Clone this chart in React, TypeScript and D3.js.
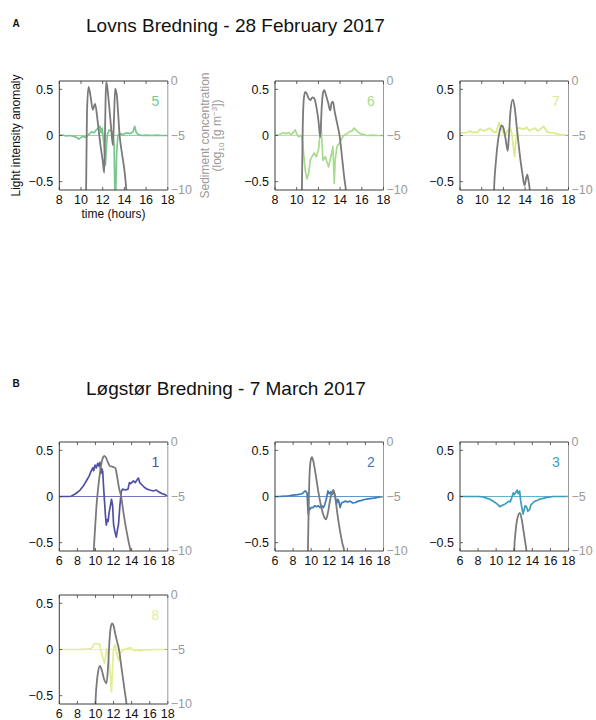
import React from 'react';
import * as d3 from 'd3';

type Pt = [number, number];

// ---------- data: light intensity anomaly (left axis) ----------
const light5: Pt[] = [
  [8.0, 0], [8.3, 0.005], [8.6, -0.005], [9.0, 0], [9.3, -0.01], [9.6, -0.02], [9.8, -0.04], [10.0, -0.02],
  [10.2, -0.01], [10.4, -0.02], [10.6, 0.0], [10.8, 0.02], [11.0, 0.04], [11.2, 0.03], [11.4, 0.06], [11.6, 0.08],
  [11.75, 0.1], [11.85, 0.03], [11.95, 0.08], [12.05, -0.02], [12.15, -0.15], [12.25, -0.32], [12.35, -0.1],
  [12.45, 0.02], [12.6, 0.06], [12.8, 0.05], [12.95, 0.02], [13.05, -0.1], [13.12, -0.6], [13.2, -0.65],
  [13.28, -0.2], [13.4, 0.0], [13.6, 0.02], [13.9, 0.01], [14.2, 0.03], [14.5, 0.02], [14.8, 0.04], [14.95, 0.1],
  [15.1, 0.03], [15.3, 0.01], [15.6, 0.0], [16.0, 0.005], [16.5, 0], [17.0, 0.005], [17.5, 0], [18.0, 0],
];
const light6: Pt[] = [
  [8.0, 0], [8.4, 0.01], [8.8, 0.03], [9.0, 0.02], [9.26, 0.03], [9.5, 0.01], [9.87, 0.06], [10.0, 0.02],
  [10.18, -0.015], [10.35, 0.0], [10.48, -0.02], [10.58, -0.12], [10.79, -0.38], [10.94, -0.47], [11.1, -0.41],
  [11.25, -0.27], [11.4, -0.23], [11.62, -0.19], [11.8, -0.23], [12.02, -0.15], [12.23, 0.14], [12.42, -0.27],
  [12.63, -0.23], [12.94, -0.34], [13.15, -0.23], [13.34, -0.12], [13.46, -0.52], [13.55, -0.26], [13.71, -0.12],
  [13.95, -0.08], [14.17, -0.03], [14.32, 0.0], [14.63, 0.02], [14.85, 0.04], [15.09, 0.05], [15.3, 0.08],
  [15.55, 0.05], [15.85, 0.02], [16.2, 0.01], [16.47, 0], [17.0, 0.005], [17.5, 0], [18.0, 0],
];
const light7: Pt[] = [
  [8.0, 0.02], [8.3, 0.03], [8.62, 0.03], [8.92, 0.05], [9.15, 0.03], [9.38, 0.04], [9.6, 0.03], [9.85, 0.07],
  [10.15, 0.05], [10.46, 0.065], [10.77, 0.08], [11.02, 0.045], [11.32, 0.03], [11.6, 0.14], [11.85, 0.065],
  [12.15, 0.0], [12.37, 0.05], [12.62, 0.08], [12.78, 0.02], [12.86, -0.06], [13.02, -0.23], [13.12, -0.1],
  [13.29, 0.08], [13.54, 0.08], [13.85, 0.065], [14.15, 0.09], [14.4, 0.05], [14.62, 0.065], [14.92, 0.08],
  [15.15, 0.05], [15.38, 0.065], [15.69, 0.1], [16.0, 0.045], [16.3, 0.03], [16.62, 0.03], [17.0, 0.015],
  [17.23, 0.01], [17.6, 0.005], [18.0, 0],
];
const light1: Pt[] = [
  [6, 0], [7, 0], [7.3, 0.003], [7.8, 0.03], [8.3, 0.07], [8.7, 0.12], [9.0, 0.17], [9.3, 0.22], [9.5, 0.27],
  [9.7, 0.31], [9.8, 0.28], [9.95, 0.34], [10.1, 0.31], [10.25, 0.36], [10.4, 0.33], [10.5, 0.37], [10.6, 0.25],
  [10.7, 0.3], [10.8, 0.27], [10.9, 0.1], [11.0, -0.05], [11.1, -0.2], [11.2, -0.31], [11.3, -0.25], [11.4, -0.27],
  [11.5, -0.18], [11.65, -0.1], [11.77, -0.03], [11.9, -0.1], [12.0, -0.3], [12.15, -0.38], [12.3, -0.44],
  [12.45, -0.35], [12.55, -0.3], [12.7, -0.1], [12.85, 0.05], [13.0, 0.08], [13.3, 0.07], [13.6, 0.08],
  [13.75, 0.15], [13.9, 0.14], [14.2, 0.17], [14.4, 0.15], [14.6, 0.18], [14.75, 0.2], [14.9, 0.15], [15.1, 0.13],
  [15.4, 0.1], [15.7, 0.08], [16.0, 0.07], [16.4, 0.06], [16.7, 0.07], [17.0, 0.05], [17.4, 0.03], [17.7, 0.02],
  [18, 0],
];
const light2: Pt[] = [
  [6, 0], [6.5, 0], [7, 0.003], [7.5, 0.008], [8, 0.015], [8.5, 0.02], [9.0, 0.03], [9.34, 0.06], [9.55, 0.04],
  [9.64, -0.15], [9.7, -0.2], [9.75, -0.12], [9.85, -0.14], [10.0, -0.12], [10.2, -0.12], [10.4, -0.1],
  [10.6, -0.11], [10.8, -0.1], [11.0, -0.12], [11.2, -0.1], [11.35, -0.12], [11.5, -0.09], [11.7, -0.02],
  [11.85, 0.06], [12.0, 0.03], [12.15, 0.05], [12.3, 0.02], [12.5, 0.05], [12.65, 0.0], [12.8, -0.08],
  [12.95, -0.03], [13.05, -0.05], [13.2, -0.12], [13.35, -0.07], [13.57, -0.06], [13.8, -0.05], [14.0, -0.06],
  [14.3, -0.05], [14.6, -0.07], [14.9, -0.065], [15.2, -0.05], [15.5, -0.045], [15.8, -0.035], [16.3, -0.025],
  [16.9, -0.018], [17.5, -0.008], [18, 0],
];
const light3: Pt[] = [
  [6, 0], [7, 0], [8, 0], [8.5, -0.003], [9.0, -0.02], [9.3, -0.03], [9.5, -0.04], [9.8, -0.06], [10.1, -0.08],
  [10.4, -0.11], [10.6, -0.1], [10.8, -0.09], [11.0, -0.08], [11.15, -0.07], [11.4, -0.05], [11.55, -0.06],
  [11.7, -0.02], [11.9, 0.04], [12.0, 0.02], [12.15, 0.04], [12.3, 0.07], [12.45, 0.03], [12.6, 0.06],
  [12.7, -0.04], [12.8, -0.1], [12.98, -0.19], [13.1, -0.14], [13.2, -0.1], [13.35, -0.11], [13.5, -0.16],
  [13.7, -0.14], [13.85, -0.09], [14.1, -0.065], [14.3, -0.05], [14.6, -0.04], [14.9, -0.025], [15.2, -0.02],
  [15.6, -0.01], [16.0, -0.005], [16.3, 0], [17, 0], [18, 0],
];
const light8: Pt[] = [
  [6, 0], [7, 0], [8, 0], [9, 0.003], [9.5, 0.01], [9.7, 0.03], [9.82, 0.06], [10.0, 0.065], [10.2, 0.06],
  [10.45, 0.06], [10.56, 0.0], [10.65, -0.03], [10.8, -0.08], [11.0, -0.15], [11.1, -0.09], [11.22, 0.01],
  [11.4, -0.05], [11.55, -0.15], [11.77, -0.46], [11.87, -0.25], [11.95, -0.05], [12.05, 0.03], [12.2, 0.05],
  [12.35, -0.05], [12.58, -0.12], [12.7, -0.05], [12.9, -0.02], [13.2, 0.0], [13.5, 0.01], [13.87, 0.02],
  [14.0, 0.005], [14.3, -0.01], [14.6, -0.005], [15.0, -0.015], [15.5, 0], [16, -0.005], [16.5, 0], [17, 0],
  [18, 0],
];

// ---------- data: sediment concentration, log10 (right axis) ----------
const sed5: Pt[] = [
  [10.4, -14], [10.47, -10], [10.55, -3], [10.69, -0.55], [10.85, -1.2], [11.09, -2.65], [11.2, -2.3],
  [11.3, -2.1], [11.5, -3.4], [11.77, -5.7], [12.0, -7.3], [12.14, -8.4], [12.2, -5.5], [12.26, -2],
  [12.32, -0.1], [12.4, -0.4], [12.55, -1.8], [12.75, -4.0], [12.94, -5.9], [13.05, -3.2], [13.15, -0.7],
  [13.3, -1.3], [13.56, -5], [13.8, -6.8], [13.99, -8.1], [14.17, -9.9], [14.3, -12],
];
const sed6: Pt[] = [
  [10.4, -14], [10.48, -10], [10.56, -4], [10.66, -1.6], [10.79, -1.0], [10.95, -1.2], [11.1, -1.6],
  [11.25, -1.75], [11.45, -1.5], [11.62, -1.6], [11.8, -2.3], [12.0, -3.6], [12.17, -5.15], [12.3, -2.5],
  [12.42, -1.1], [12.54, -0.85], [12.7, -1.3], [12.9, -2.0], [13.09, -2.7], [13.22, -2.0], [13.34, -1.9],
  [13.5, -2.8], [13.75, -4.0], [13.95, -5], [14.2, -7.2], [14.4, -9], [14.53, -10], [14.65, -12],
];
const sed7: Pt[] = [
  [11.05, -14], [11.14, -10], [11.3, -7.5], [11.5, -5.5], [11.7, -4.4], [11.85, -4.08], [12.0, -4.3],
  [12.2, -5.3], [12.4, -6.4], [12.5, -5.2], [12.65, -2.8], [12.86, -1.72], [13.05, -2.5], [13.23, -4.2],
  [13.54, -7.0], [13.75, -8.5], [13.95, -9.6], [14.1, -8.9], [14.2, -8.6], [14.32, -9.2], [14.45, -10.2],
  [14.55, -12],
];
const sed1: Pt[] = [
  [9.7, -14], [9.82, -10], [9.95, -8], [10.1, -6], [10.3, -4.2], [10.5, -2.8], [10.7, -1.8], [10.85, -1.4],
  [11.0, -1.28], [11.2, -1.5], [11.4, -1.9], [11.6, -2.2], [11.85, -2.25], [12.0, -2.3], [12.2, -2.4],
  [12.4, -3.2], [12.6, -4.2], [12.84, -5.0], [13.1, -6.5], [13.4, -8.0], [13.7, -9.3], [13.87, -10], [14.0, -12],
];
const sed2: Pt[] = [
  [9.55, -14], [9.64, -10], [9.75, -5], [9.85, -2.5], [10.0, -1.5], [10.08, -1.4], [10.25, -1.8], [10.5, -3.0],
  [10.8, -4.6], [11.1, -5.9], [11.4, -6.8], [11.63, -7.1], [11.85, -6.5], [12.1, -5.3], [12.3, -4.6],
  [12.47, -4.4], [12.65, -5.0], [12.9, -6.6], [13.2, -8.2], [13.45, -9.3], [13.65, -10], [13.8, -12],
];
const sed3: Pt[] = [
  [11.9, -14], [11.99, -10], [12.15, -8.2], [12.35, -7.0], [12.62, -6.5], [12.85, -7.2], [13.05, -8.3],
  [13.25, -9.4], [13.35, -10], [13.45, -12],
];
const sed8: Pt[] = [
  [9.9, -14], [10.0, -10], [10.15, -8], [10.3, -7], [10.49, -6.5], [10.7, -6.9], [10.95, -7.7], [11.22, -8.1],
  [11.4, -6.5], [11.55, -4.2], [11.7, -2.9], [11.85, -2.6], [12.0, -2.8], [12.2, -3.6], [12.4, -4.3],
  [12.6, -5.0], [12.85, -6.5], [13.1, -8.0], [13.3, -9.2], [13.43, -10], [13.55, -12],
];

// ---------- axes ----------
const hoursA = [8, 10, 12, 14, 16, 18];
const hoursB = [6, 8, 10, 12, 14, 16, 18];
const anomalyTicks = [0.5, 0, -0.5];
const sedimentTicks = [0, -5, -10];

const titleA = 'Lovns Bredning - 28 February 2017';
const titleB = 'Løgstør Bredning - 7 March 2017';

const FONT = '"Liberation Sans", Arial, Helvetica, sans-serif';
const AX = '#3c3c3c';
const AX2 = '#9a9a9a';

type PanelProps = {
  id: string;
  x: number;
  y: number;
  domain: [number, number];
  ticks: number[];
  light: Pt[];
  sed: Pt[];
  color: string;
  label: string;
};

const W = 108.5;
const H = 109;

function Panel({ id, x, y, domain, ticks, light, sed, color, label }: PanelProps) {
  const xs = d3.scaleLinear().domain(domain).range([x, x + W]);
  const yl = d3.scaleLinear().domain([-0.59, 0.59]).range([y + H, y]);
  const yr = d3.scaleLinear().domain([-10, 0]).range([y + H, y]);
  const lineL = d3.line<Pt>().x((d) => xs(d[0])).y((d) => yl(d[1]));
  const lineR = d3
    .line<Pt>()
    .x((d) => xs(d[0]))
    .y((d) => yr(d[1]))
    .curve(d3.curveMonotoneX);
  const clip = 'clip-' + id;
  const tl = 3;
  return (
    <g fontFamily={FONT}>
      <defs>
        <clipPath id={clip}>
          <rect x={x} y={y} width={W} height={H} />
        </clipPath>
      </defs>
      <g clipPath={`url(#${clip})`}>
        <line x1={x} x2={x + W} y1={yl(0)} y2={yl(0)} stroke={color} strokeWidth={0.8} />
        <path d={lineL(light) || ''} fill="none" stroke={color} strokeWidth={1.7} strokeLinejoin="round" />
        <path d={lineR(sed) || ''} fill="none" stroke="#7a7a7a" strokeWidth={1.8} strokeLinejoin="round" />
      </g>
      {/* frame */}
      <line x1={x} x2={x + W} y1={y} y2={y} stroke={AX} strokeWidth={1} />
      <line x1={x} x2={x + W} y1={y + H} y2={y + H} stroke={AX} strokeWidth={1} />
      <line x1={x} x2={x} y1={y} y2={y + H} stroke={AX} strokeWidth={1} />
      <line x1={x + W} x2={x + W} y1={y} y2={y + H} stroke={AX2} strokeWidth={1} />
      {ticks.map((t) => (
        <g key={'xt' + t}>
          <line x1={xs(t)} x2={xs(t)} y1={y + H} y2={y + H - tl} stroke={AX} strokeWidth={0.8} />
          <line x1={xs(t)} x2={xs(t)} y1={y} y2={y + tl} stroke={AX} strokeWidth={0.8} />
          <text x={xs(t)} y={y + H + 14} fontSize={12.5} textAnchor="middle" fill="#111">
            {t}
          </text>
        </g>
      ))}
      {anomalyTicks.map((t) => (
        <g key={'yl' + t}>
          <line x1={x} x2={x + tl} y1={yl(t)} y2={yl(t)} stroke={AX} strokeWidth={0.8} />
          <text x={x - 6} y={yl(t) + 4.4} fontSize={12.5} textAnchor="end" fill="#111">
            {t === 0 ? '0' : t < 0 ? '\u2212' + Math.abs(t) : String(t)}
          </text>
        </g>
      ))}
      {sedimentTicks.map((t) => (
        <g key={'yr' + t}>
          <line x1={x + W} x2={x + W - tl} y1={yr(t)} y2={yr(t)} stroke={AX2} strokeWidth={0.8} />
          <text x={x + W + 3} y={yr(t) + 4.4} fontSize={12.5} textAnchor="start" fill={AX2}>
            {t === 0 ? '0' : '\u2212' + Math.abs(t)}
          </text>
        </g>
      ))}
      <text x={x + W - 12.5} y={y + 24.5} fontSize={14} textAnchor="middle" fill={color}>
        {label}
      </text>
    </g>
  );
}

const lefts = [59.3, 275, 460];
const topsA = 81;
const topsB1 = 442;
const topsB2 = 595;

export default function App() {
  return (
    <svg
      width={596}
      height={720}
      style={{ position: 'absolute', left: 0, top: 0, background: '#fff' }}
      fontFamily={FONT}
    >
      <rect width={596} height={720} fill="#fff" />
      <text x={12.5} y={26.7} fontSize={10} fontWeight="bold" fill="#111">A</text>
      <text x={86} y={31.5} fontSize={19} fill="#111">{titleA}</text>
      <text x={12.5} y={387.3} fontSize={10} fontWeight="bold" fill="#111">B</text>
      <text x={86} y={395.3} fontSize={19} fill="#111">{titleB}</text>

      <Panel id="a5" x={lefts[0]} y={topsA} domain={[8, 18]} ticks={hoursA} light={light5} sed={sed5} color="#78c690" label="5" />
      <Panel id="a6" x={lefts[1]} y={topsA} domain={[8, 18]} ticks={hoursA} light={light6} sed={sed6} color="#a8dc8c" label="6" />
      <Panel id="a7" x={lefts[2]} y={topsA} domain={[8, 18]} ticks={hoursA} light={light7} sed={sed7} color="#dbe98c" label="7" />

      <Panel id="b1" x={lefts[0]} y={topsB1} domain={[6, 18]} ticks={hoursB} light={light1} sed={sed1} color="#5050a6" label="1" />
      <Panel id="b2" x={lefts[1]} y={topsB1} domain={[6, 18]} ticks={hoursB} light={light2} sed={sed2} color="#3b7bbb" label="2" />
      <Panel id="b3" x={lefts[2]} y={topsB1} domain={[6, 18]} ticks={hoursB} light={light3} sed={sed3} color="#3c9ebe" label="3" />
      <Panel id="b8" x={lefts[0]} y={topsB2} domain={[6, 18]} ticks={hoursB} light={light8} sed={sed8} color="#e4ed96" label="8" />

      {/* axis titles of the first panel */}
      <text
        transform={`translate(20,${topsA + H / 2}) rotate(-90)`}
        textAnchor="middle"
        fontSize={12}
        fill="#111"
      >
        Light intensity anomaly
      </text>
      <text x={lefts[0] + W / 2} y={217.5} textAnchor="middle" fontSize={12} fill="#111">
        time (hours)
      </text>
      <text
        transform={`translate(208.5,${topsA + H / 2}) rotate(-90)`}
        textAnchor="middle"
        fontSize={12}
        fill={AX2}
      >
        Sediment concentration
      </text>
      <text
        transform={`translate(221,${topsA + H / 2}) rotate(-90)`}
        textAnchor="middle"
        fontSize={12}
        fill={AX2}
      >
        (log
        <tspan fontSize={8} dy={3}>10</tspan>
        <tspan dy={-3}> [g m</tspan>
        <tspan fontSize={8} dy={-4}>{'\u22123'}</tspan>
        <tspan dy={4}>])</tspan>
      </text>
    </svg>
  );
}
